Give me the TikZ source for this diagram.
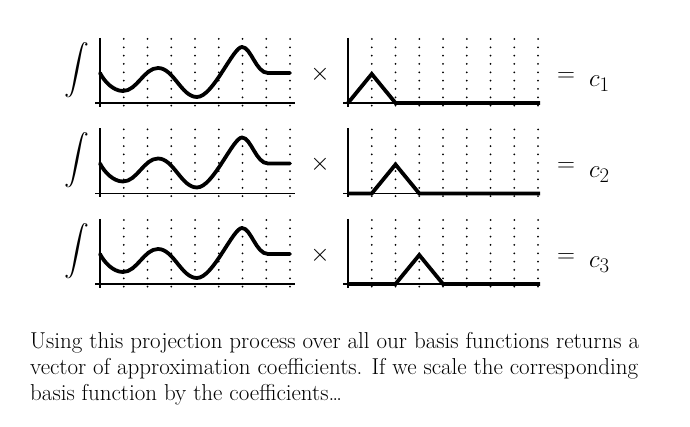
\documentclass[tikz,border=0pt]{standalone}
\usepackage{amsmath}
\begin{document}
\begin{tikzpicture}[x=1pt,y=1pt,
  axisline/.style={line width=1.3pt},
  gridline/.style={line width=2pt, line cap=round, dash pattern=on 0pt off 8.33pt},
  curveline/.style={line width=3.8pt, line cap=round, line join=round},
  basisline/.style={line width=3.8pt, line join=miter},
  optext/.style={font=\fontsize{26}{26}\selectfont, inner sep=0pt},
  coeftext/.style={font=\fontsize{30}{30}\selectfont, inner sep=0pt, anchor=base west},
  inttext/.style={font=\fontsize{33}{33}\selectfont, inner sep=0pt},
  bodytext/.style={font=\fontsize{23}{27}\selectfont, anchor=base west, inner sep=0pt}]
\useasboundingbox (0,0) rectangle (690,-427);
\foreach \r/\k in {0/1,1/2,2/3}{
 \begin{scope}[yshift=-90.5*\r pt]
  \node[inttext] (int\k) at (77,-70) {$\displaystyle\int$};
  % first plot
  \foreach \i in {1,...,8}
    \draw[gridline] ({100+23.75*\i},-39) -- ({100+23.75*\i},-106.5);
  \draw[axisline] (100,-38) -- (100,-107);
  \draw[axisline] (95,-103) -- (295,-103);
  \draw[curveline] (100,-73) .. controls (104,-81) and (113,-91) .. (123,-91)
     .. controls (137,-91) and (144,-68) .. (158,-68)
     .. controls (173.6,-68) and (181.4,-97) .. (197,-97)
     .. controls (213,-97) and (233,-47) .. (242,-47)
     .. controls (251,-47) and (256,-73) .. (268,-73) -- (290,-73);
  \node[optext] (times\k) at (320,-74) {$\times$};
  % second plot
  \foreach \i in {1,...,8}
    \draw[gridline] ({348+23.75*\i},-39) -- ({348+23.75*\i},-106.5);
  \draw[axisline] (348,-38) -- (348,-107);
  \draw[axisline] (343,-103) -- (540,-103);
  \node[optext] (eq\k) at (566,-77) {$=$};
  \node[coeftext] (c\k) at (589,-87) {$c_{\k}$};
 \end{scope}
}
\draw[basisline] (348,-103) -- (371.75,-74) -- (395.5,-103) -- (540,-103);
\draw[basisline] (348,-193.5) -- (371.75,-193.5) -- (395.5,-164.5) -- (419.25,-193.5) -- (540,-193.5);
\draw[basisline] (348,-284) -- (395.5,-284) -- (419.25,-255) -- (443,-284) -- (540,-284);
\node[bodytext] (l1) at (30,-348) {Using this projection process over all our basis functions returns a};
\node[bodytext] (l2) at (30,-374) {vector of approximation coefficients. If we scale the corresponding};
\node[bodytext] (l3) at (30,-400) {basis function by the coefficients\ldots};
\end{tikzpicture}
\end{document}
